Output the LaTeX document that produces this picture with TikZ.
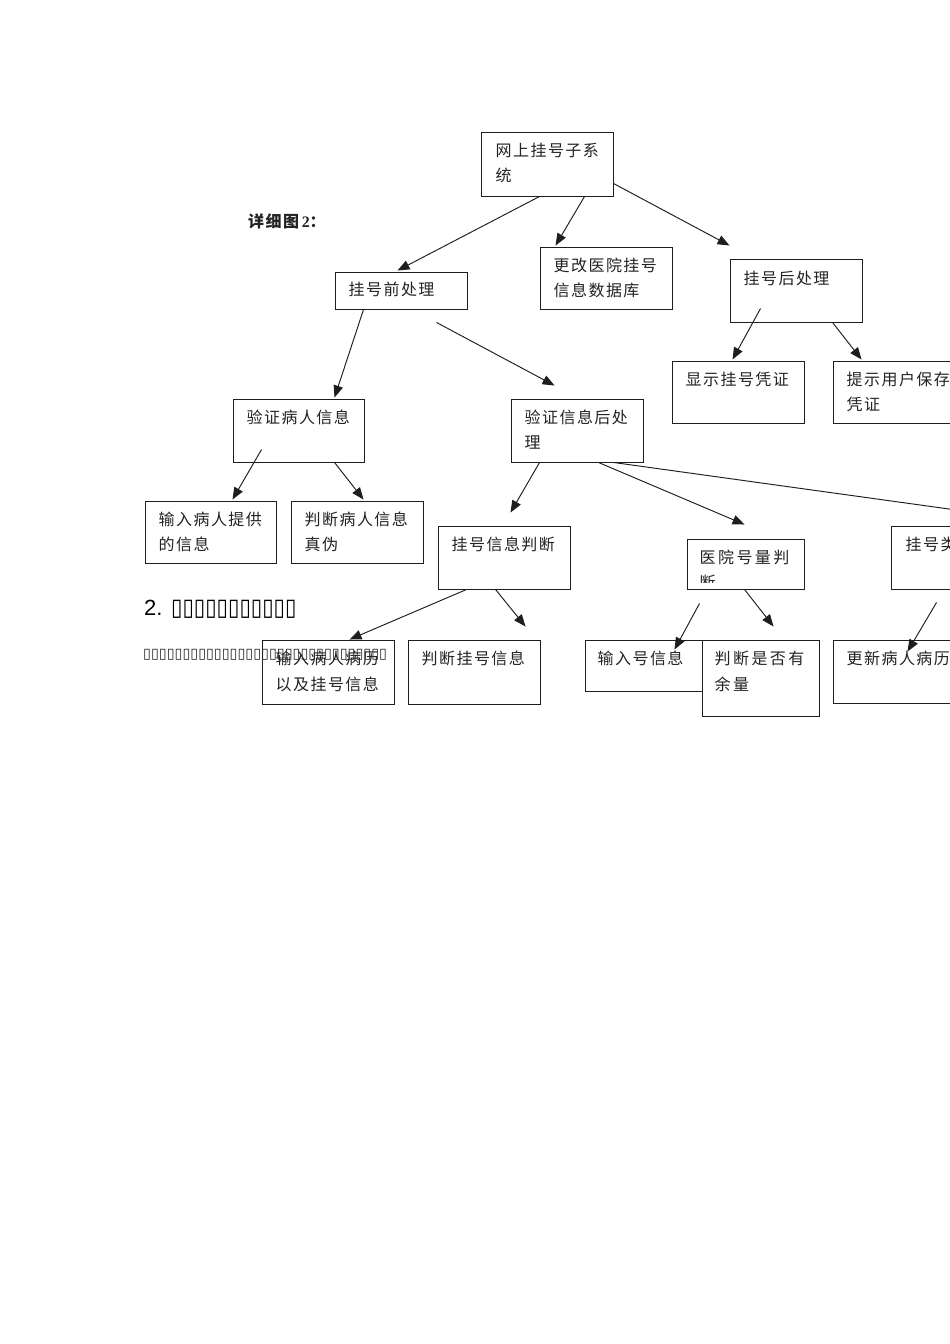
\documentclass[tikz,border=0pt]{standalone}
\usepackage{fontspec}
\setmainfont{Liberation Serif}
\newfontfamily\cjk{Noto Sans CJK SC}[LetterSpace=9]
\newfontfamily\cjkw{Noto Sans CJK SC}[LetterSpace=15]
\newfontfamily\dejavu{DejaVu Sans}
\newfontfamily\arialf{Liberation Sans}
\usetikzlibrary{arrows.meta,calc,fit}
\definecolor{linec}{RGB}{30,30,30}
\definecolor{txtc}{RGB}{35,35,35}
\begin{document}
\begin{tikzpicture}[x=1pt,y=-1pt,
  boxst/.style={draw=linec, line width=0.95pt, inner sep=0pt},
  txt/.style={anchor=base west, inner sep=0pt, font=\cjk\fontsize{16}{16}\selectfont, text=txtc},
  txtw/.style={anchor=base west, inner sep=0pt, font=\cjkw\fontsize{16}{16}\selectfont, text=txtc},
  arr/.style={draw=linec, line width=0.95pt, -{Triangle[length=12pt,width=9.5pt]}}]
\useasboundingbox (0,0) rectangle (950,1344);
\fill[white] (0,0) rectangle (950,1344);
\clip (0,0) rectangle (950,1344);

% boxes
\node[boxst, fit={(481,132) (613,196)}] (A) {};
\node[boxst, fit={(335,272) (467,309)}] (B) {};
\node[boxst, fit={(540,247) (672,309)}] (C) {};
\node[boxst, fit={(730,259) (862,322)}] (D) {};
\node[boxst, fit={(672,361) (804,423)}] (E) {};
\node[boxst, fit={(833,361) (965,423)}] (F) {};
\node[boxst, fit={(233,399) (364,462)}] (G) {};
\node[boxst, fit={(511,399) (643,462)}] (H) {};
\node[boxst, fit={(145,501) (276,563)}] (I) {};
\node[boxst, fit={(291,501) (423,563)}] (J) {};
\node[boxst, fit={(438,526) (570,589)}] (K) {};
\node[boxst, fit={(687,539) (804,589)}] (L) {};
\node[boxst, fit={(891,526) (1023,589)}] (M) {};
\node[boxst, fit={(262,640) (394,704)}] (N) {};
\node[boxst, fit={(408,640) (540,704)}] (O) {};
\node[boxst, fit={(585,640) (702,691)}] (P) {};
\node[boxst, fit={(702,640) (819,716)}] (Q) {};
\node[boxst, fit={(833,640) (965,703)}] (R) {};

% texts in boxes
\node[txt] (tA1) at ($(A.north west)+(15,25)$) {网上挂号子系};
\node[txt] (tA2) at ($(A.north west)+(15,50)$) {统};
\node[txt] (tB1) at ($(B.north west)+(14,24)$) {挂号前处理};
\node[txt] (tC1) at ($(C.north west)+(14,25)$) {更改医院挂号};
\node[txt] (tC2) at ($(C.north west)+(14,50)$) {信息数据库};
\node[txt] (tD1) at ($(D.north west)+(14,26)$) {挂号后处理};
\node[txt] (tE1) at ($(E.north west)+(14,25)$) {显示挂号凭证};
\node[txt] (tF1) at ($(F.north west)+(14,25)$) {提示用户保存};
\node[txt] (tF2) at ($(F.north west)+(14,50)$) {凭证};
\node[txt] (tG1) at ($(G.north west)+(14,25)$) {验证病人信息};
\node[txt] (tH1) at ($(H.north west)+(14,25)$) {验证信息后处};
\node[txt] (tH2) at ($(H.north west)+(14,50)$) {理};
\node[txt] (tI1) at ($(I.north west)+(14,25)$) {输入病人提供};
\node[txt] (tI2) at ($(I.north west)+(14,50)$) {的信息};
\node[txt] (tJ1) at ($(J.north west)+(14,25)$) {判断病人信息};
\node[txt] (tJ2) at ($(J.north west)+(14,50)$) {真伪};
\node[txt] (tK1) at ($(K.north west)+(14,25)$) {挂号信息判断};
\begin{scope}
\clip (687,539) rectangle (804,582);
\node[txtw] (tL1) at ($(L.north west)+(13,25)$) {医院号量判};
\node[txtw] (tL2) at ($(L.north west)+(13,50)$) {断};
\end{scope}
\node[txt] (tM1) at ($(M.north west)+(15,25)$) {挂号类};
\node[txt] (tN1) at ($(N.north west)+(14,25)$) {输入病人病历};
\node[txt] (tN2) at ($(N.north west)+(14,51)$) {以及挂号信息};
\node[txt] (tO1) at ($(O.north west)+(14,25)$) {判断挂号信息};
\node[txt] (tP1) at ($(P.north west)+(13,25)$) {输入号信息};
\node[txtw] (tQ1) at ($(Q.north west)+(13,25)$) {判断是否有};
\node[txtw] (tQ2) at ($(Q.north west)+(13,51)$) {余量};
\node[txt] (tR1) at ($(R.north west)+(14,25)$) {更新病人病历};

% caption
\node[anchor=base west, inner sep=0pt, text=txtc, font=\fontsize{16}{16}\selectfont\bfseries] (cap) at (248,227)
  {{\cjk\bfseries 详细图}\,2{\cjk\bfseries ：}};

% arrows
\draw[arr] ($(A.south west)+(59,0)$) -- ($(B.north west)+(63,-1)$);
\draw[arr] ($(A.south west)+(104,0)$) -- ($(C.north west)+(16,-1)$);
\draw[arr] ($(A.south east)+(0,-13)$) -- ($(D.north west)+(0,-13)$);
\draw[arr] ($(B.south west)+(29,0)$) -- ($(G.north west)+(102,-1)$);
\draw[arr] ($(B.south west)+(102,13)$) -- ($(H.north west)+(44,-13)$);
\draw[arr] ($(D.north west)+(31,50)$) -- ($(E.north west)+(61,-1)$);
\draw[arr] ($(D.south west)+(103,0)$) -- ($(F.north west)+(29,-1)$);
\draw[arr] ($(G.north west)+(29,51)$) -- ($(I.north west)+(88,-1)$);
\draw[arr] ($(G.south west)+(102,0)$) -- ($(J.north west)+(73,-1)$);
\draw[arr] ($(H.south west)+(29,0)$) -- ($(K.north west)+(73,-13)$);
\draw[arr] ($(H.south west)+(88,0)$) -- ($(L.north west)+(58,-14)$);
\draw[arr] ($(H.south west)+(103,0)$) -- ($(M.north west)+(120,-8)$);
\draw[arr] ($(K.south west)+(29,0)$) -- ($(N.north west)+(88,0)$);
\draw[arr] ($(K.south west)+(58,0)$) -- ($(O.north west)+(118,-13)$);
\draw[arr] ($(L.south west)+(13,14)$) -- ($(P.north west)+(90,10)$);
\draw[arr] ($(L.south west)+(58,0)$) -- ($(Q.north west)+(72,-13)$);
\draw[arr] ($(M.south west)+(46,13)$) -- ($(R.north west)+(75,12)$);

% heading with missing-glyph boxes
\node[anchor=base west, inner sep=0pt, text=black, font=\arialf\fontsize{22}{22}\selectfont] (h2) at (144,615) {2.};
\node[anchor=base west, inner sep=0pt, text=black, font=\dejavu\fontsize{20.7}{20.7}\selectfont] (h2b) at (171,615)
  {\scalebox{1}[1.15]{▯▯▯▯▯▯▯▯▯▯▯}};
\node[anchor=base west, inner sep=0pt, text=black!85, font=\dejavu\fontsize{14.3}{14.3}\selectfont] (para) at (143,658)
  {▯▯▯▯▯▯▯▯▯▯▯▯▯▯▯▯▯▯▯▯▯▯▯▯▯▯▯▯▯▯▯};
\end{tikzpicture}
\end{document}
